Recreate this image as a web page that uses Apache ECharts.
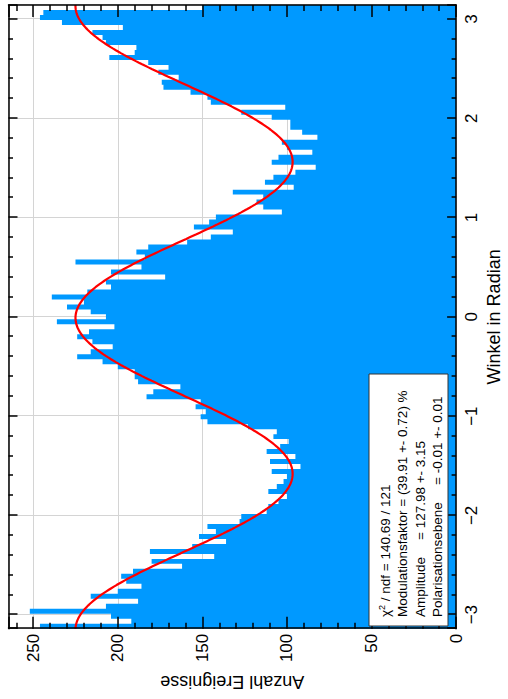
<!DOCTYPE html>
<html>
<head>
<meta charset="utf-8">
<script src="https://cdn.jsdelivr.net/npm/echarts@6/dist/echarts.min.js"></script>
<style>
  html, body { margin: 0; padding: 0; background: #fff; overflow: hidden; width: 508px; height: 699px; }
  /* the canvas is laid out in landscape and turned a quarter turn counter-clockwise */
  #chart { position: absolute; left: 0; top: 0; width: 699px; height: 508px;
           transform-origin: 0 0; transform: translate(0, 699px) rotate(-90deg); }
</style>
</head>
<body>
<div id="chart"></div>
<script>
// Angular range of the histogram (radians)
const phiMin = -Math.PI;
const phiMax = Math.PI;

// Events per bin, ordered from phi = -pi to phi = +pi
const counts = [
  246, 192, 204, 252, 207, 188, 216, 200, 186, 195, 198, 191, 162, 180, 143, 181,
  156, 136, 152, 142, 147, 128, 127, 112, 111, 105, 100, 111, 106, 102, 100, 109,
  92, 110, 95, 112, 104, 99, 108, 106, 123, 147, 151, 148, 154, 151, 183, 179,
  163, 188, 190, 190, 200, 209, 224, 216, 203, 215, 224, 217, 202, 236, 207, 216,
  230, 220, 239, 218, 204, 207, 172, 204, 186, 225, 184, 189, 182, 159, 145, 132,
  155, 146, 142, 103, 114, 118, 114, 132, 96, 113, 108, 95, 83, 109, 105, 85,
  100, 103, 82, 91, 98, 98, 109, 127, 101, 145, 147, 157, 173, 174, 164, 176,
  170, 182, 205, 190, 189, 207, 209, 215, 197, 233, 246, 244, 150
];

// Fit result of the modulation curve
const chi2 = 140.69, ndf = 121;
const modulation = 39.91, modulationErr = 0.72;      // percent
const amplitude = 127.98, amplitudeErr = 3.15;
const polPlane = -0.01, polPlaneErr = 0.01;          // radians
const countsPerAmplitude = 2 * Math.PI / 5;          // amplitude -> counts per bin

// Axis ticks
const phiTicks = [-3, -2, -1, 0, 1, 2, 3];
const countTicks = [0, 50, 100, 150, 200, 250];
const countMax = 264.6;

const FONT = '"Liberation Sans", Arial, Helvetica, sans-serif';
const BLUE = '#0099ff';

// step outline of the histogram: left edge of every bin, closed at phiMax
const binWidth = (phiMax - phiMin) / counts.length;
const histPoints = counts.map((c, i) => [phiMin + i * binWidth, c]);
histPoints.push([phiMax, counts[counts.length - 1]]);

// fitted curve
function fitFunc(phi) {
  return countsPerAmplitude * amplitude * (1 + modulation / 100 * Math.cos(2 * (phi - polPlane)));
}
const curvePoints = [];
const nCurve = 400;
for (let i = 0; i <= nCurve; i++) {
  const phi = phiMin + (phiMax - phiMin) * i / nCurve;
  curvePoints.push([phi, fitFunc(phi)]);
}

function phiLabel(v) {
  const r = Math.round(v);
  if (Math.abs(v - r) > 1e-6 || phiTicks.indexOf(r) < 0) return '';
  return r < 0 ? '\u2212' + (-r) : String(r);
}
function countLabel(v) {
  const r = Math.round(v);
  if (Math.abs(v - r) > 1e-6 || countTicks.indexOf(r) < 0) return '';
  return String(r);
}

const tickLine = { color: '#000', width: 1.5 };
function phiTickAxis(position) {
  return {
    type: 'value', position: position, min: phiMin, max: phiMax, z: 10,
    axisLine: { show: true, onZero: false, lineStyle: tickLine },
    axisTick: { show: true, inside: true, length: 9, lineStyle: tickLine },
    minorTick: { show: true, splitNumber: 5, length: 4.5, lineStyle: tickLine },
    axisLabel: { show: false }, splitLine: { show: false }
  };
}
function countTickAxis(position) {
  return {
    type: 'value', position: position, min: 0, max: countMax, interval: 50, z: 10,
    axisLine: { show: true, onZero: false, lineStyle: tickLine },
    axisTick: { show: true, inside: true, length: 12, lineStyle: tickLine },
    minorTick: { show: true, splitNumber: 5, length: 6, lineStyle: tickLine },
    axisLabel: { show: false }, splitLine: { show: false }
  };
}

const chart = echarts.init(document.getElementById('chart'), null, { renderer: 'svg', width: 699, height: 508 });

const textStyle = { fontFamily: FONT, fontSize: 13.5, fill: '#000', verticalAlign: 'middle' };
const boxX = 73, boxY = 369;
const lineY = [385, 402.5, 420, 437.5];

chart.setOption({
  animation: false,
  backgroundColor: '#fff',
  grid: { left: 66, right: 5, top: 8.5, bottom: 42, containLabel: false },
  xAxis: [
    {
      type: 'value', position: 'bottom', min: phiMin, max: phiMax,
      name: 'Winkel in Radian', nameLocation: 'middle', nameGap: 28,
      nameTextStyle: { fontFamily: FONT, fontSize: 18, color: '#000' },
      axisLine: { show: false }, axisTick: { show: false },
      axisLabel: { show: true, margin: 7, fontFamily: FONT, fontSize: 17, color: '#000',
                   formatter: phiLabel, showMinLabel: false, showMaxLabel: false },
      splitLine: { show: true, lineStyle: { color: '#d4d4d4', width: 1 } }
    },
    phiTickAxis('bottom'),
    phiTickAxis('top')
  ],
  yAxis: [
    {
      type: 'value', position: 'left', min: 0, max: countMax, interval: 50,
      name: 'Anzahl Ereignisse', nameLocation: 'middle', nameGap: 44, nameRotate: 90,
      nameTextStyle: { fontFamily: FONT, fontSize: 18, color: '#000' },
      axisLine: { show: false }, axisTick: { show: false },
      axisLabel: { show: true, margin: 5, fontFamily: FONT, fontSize: 17, color: '#000',
                   formatter: countLabel, showMaxLabel: false },
      splitLine: { show: true, lineStyle: { color: '#d4d4d4', width: 1 } }
    },
    countTickAxis('left'),
    countTickAxis('right')
  ],
  series: [
    {
      name: 'Ereignisse', type: 'line', step: 'end', data: histPoints,
      xAxisIndex: 0, yAxisIndex: 0, showSymbol: false, symbol: 'none',
      lineStyle: { width: 0, opacity: 0 },
      areaStyle: { color: BLUE, opacity: 1, origin: 'start' },
      z: 2, silent: true
    },
    {
      name: 'Fit', type: 'line', data: curvePoints, smooth: false,
      xAxisIndex: 0, yAxisIndex: 0, showSymbol: false, symbol: 'none',
      lineStyle: { color: '#ff0000', width: 2.2 }, z: 3, silent: true, clip: true
    }
  ],
  graphic: {
    elements: [
      { type: 'rect', z: 20, shape: { x: boxX, y: boxY, width: 252, height: 79 },
        style: { fill: '#fff', stroke: '#333', lineWidth: 1 } },
      { type: 'text', z: 21, x: 82, y: lineY[0],
        style: Object.assign({}, textStyle, {
          text: '{t|\u03c7}{s|2}{t| / ndf = ' + chi2.toFixed(2) + ' / ' + ndf + '}',
          rich: { t: { fontFamily: FONT, fontSize: 13.5 }, s: { fontFamily: FONT, fontSize: 9, padding: [0, 0, 7, 0] } }
        }) },
      { type: 'text', z: 21, x: 82, y: lineY[1],
        style: Object.assign({}, textStyle, {
          text: 'Modulationsfaktor = (' + modulation.toFixed(2) + ' +- ' + modulationErr.toFixed(2) + ') %' }) },
      { type: 'text', z: 21, x: 82, y: lineY[2],
        style: Object.assign({}, textStyle, { text: 'Amplitude' }) },
      { type: 'text', z: 21, x: 159, y: lineY[2],
        style: Object.assign({}, textStyle, {
          text: '= ' + amplitude.toFixed(2) + ' +- ' + amplitudeErr.toFixed(2) }) },
      { type: 'text', z: 21, x: 82, y: lineY[3],
        style: Object.assign({}, textStyle, { text: 'Polarisationsebene' }) },
      { type: 'text', z: 21, x: 214, y: lineY[3],
        style: Object.assign({}, textStyle, {
          text: '= ' + polPlane.toFixed(2) + ' +- ' + polPlaneErr.toFixed(2) }) }
    ]
  }
});
</script>
</body>
</html>
